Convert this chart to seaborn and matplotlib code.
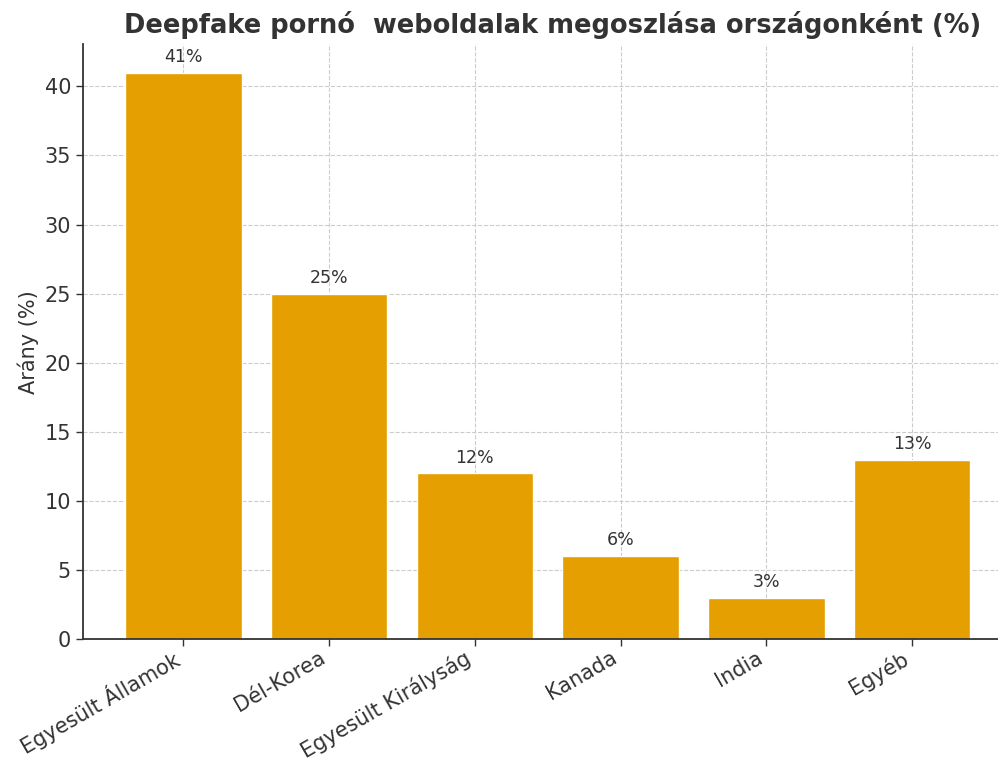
import matplotlib
matplotlib.use("Agg")
import matplotlib.pyplot as plt
import seaborn as sns
import pandas as pd

# data
countries = ["Egyesült Államok", "Dél-Korea", "Egyesült Királyság", "Kanada", "India", "Egyéb"]
shares = [41, 25, 12, 6, 3, 13]

df = pd.DataFrame({"Ország": countries, "Arány": shares})

sns.set_theme(style="whitegrid")
plt.rcParams['font.family'] = ['DejaVu Sans']

fig = plt.figure(figsize=(9.98, 7.62), dpi=100)
ax = fig.add_axes([0.083, 0.161, 0.917, 0.781])

sns.barplot(data=df, x="Ország", y="Arány", color="#E69F00", width=0.8,
            saturation=1, ax=ax)

for i, v in enumerate(shares):
    ax.text(i, v + 0.5, f"{v}%", ha="center", va="bottom", fontsize=12.5, color="#333333")

ax.set_title("Deepfake pornó  weboldalak megoszlása országonként (%)",
             fontsize=18.5, fontweight="bold", color="#333333", pad=8, x=0.513)
ax.set_xlabel("")
ax.set_ylabel("Arány (%)", fontsize=15, color="#333333")
ax.set_ylim(0, 43.05)
ax.set_xlim(-0.69, 5.59)

ax.grid(True, linestyle="--", color="#cccccc", linewidth=0.8)
ax.set_axisbelow(True)
for s in ["top", "right"]:
    ax.spines[s].set_visible(False)
for s in ["left", "bottom"]:
    ax.spines[s].set_color("#333333")
    ax.spines[s].set_linewidth(1.3)

ax.tick_params(axis="both", labelsize=15, colors="#333333", length=5, width=1,
               direction="out", bottom=True, left=True)
ax.tick_params(axis="x", labelsize=15, pad=1)
plt.setp(ax.get_xticklabels(), rotation=30, ha="right")

fig.savefig("out.png", dpi=100)
